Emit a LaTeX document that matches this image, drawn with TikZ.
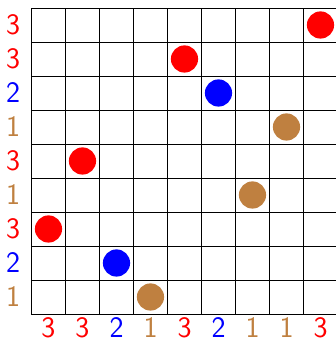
\documentclass[tikz,border=0pt]{standalone}
\usepackage{fontspec}
\tikzset{every node/.style={font=\sffamily\Huge, inner sep=0pt}}

\begin{document}
\begin{tikzpicture}
  % Bounding box (right border of the board falls just outside)
  \path[use as bounding box] (-0.926,-0.853) rectangle (8.956,9.235);

  % One colour per value.
  \colorlet{col1}{brown}
  \colorlet{col2}{blue}
  \colorlet{col3}{red}

  % Board.
  \draw[semithick] (0,0) grid (9,9);

  % Row labels, bottom to top.
  \foreach \v [count=\i] in {1,2,3,1,3,1,2,3,3}
    \node[text=col\v] (row\i) at (-0.54,\i-0.5) {\v};

  % Column labels, left to right.
  \foreach \v [count=\i] in {3,3,2,1,3,2,1,1,3}
    \node[text=col\v] (col\i) at (\i-0.5,-0.41) {\v};

  % Tokens: column/row/value.
  \foreach \x/\y/\v in {9/9/3, 5/8/3, 6/7/2, 8/6/1, 2/5/3, 7/4/1, 1/3/3, 3/2/2, 4/1/1}
    \fill[col\v] (\x-0.5,\y-0.5) circle (0.4);
\end{tikzpicture}
\end{document}
